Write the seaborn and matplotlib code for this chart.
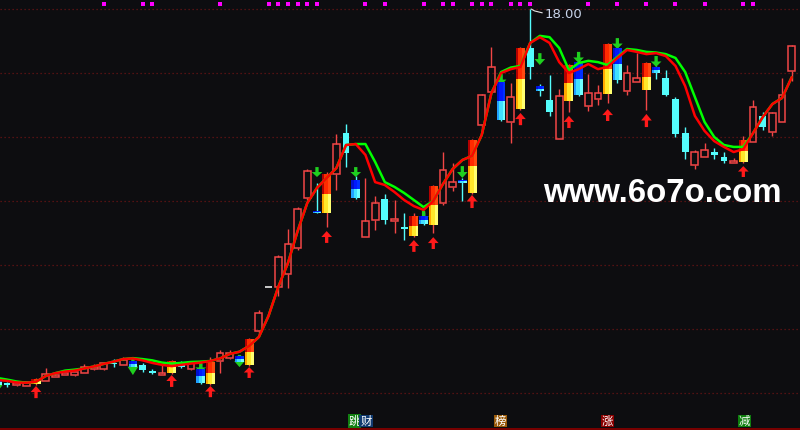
import numpy as np
import pandas as pd
import matplotlib.pyplot as plt
import seaborn as sns
from matplotlib.patches import Rectangle, Polygon

sns.set_theme(style="dark")
plt.rcParams['font.family'] = ['Noto Sans CJK SC', 'DejaVu Sans']

BG = '#0d0d10'
UP_C = '#f24646'
DN_C = '#54fcfc'

# ==========================================
# 1. DANE
# ==========================================
opens = [6.44, 6.30, 6.25, 6.23, 6.28, 6.38, 6.51, 6.56, 6.56, 6.62,
         6.75, 6.75, 6.95, 6.88, 7.00, 6.88, 6.69, 6.56, 6.62, 6.94,
         6.75, 6.75, 6.28, 7.00, 7.09, 7.16, 6.88, 7.94, 9.31, 9.31,
         9.72, 10.53, 12.09, 11.69, 11.62, 12.84, 14.12, 12.66, 10.87, 11.41,
         12.06, 11.37, 11.19, 10.91, 11.53, 11.25, 11.94, 12.44, 12.66, 12.25,
         14.38, 15.41, 15.72, 14.47, 14.87, 16.78, 15.59, 15.16, 13.94, 15.12,
         16.34, 14.97, 15.19, 15.34, 16.78, 15.44, 15.72, 15.47, 16.19, 15.84,
         15.19, 14.12, 13.12, 13.37, 13.53, 13.37, 13.19, 13.22, 13.84, 14.66,
         14.16, 14.47, 16.06]
closes = [6.25, 6.25, 6.31, 6.33, 6.44, 6.59, 6.57, 6.62, 6.66, 6.81,
          6.81, 6.94, 6.90, 7.03, 6.81, 6.72, 6.62, 6.62, 7.00, 6.81,
          6.97, 6.31, 6.97, 7.25, 7.25, 6.97, 7.69, 8.50, 9.31, 10.25,
          10.66, 11.75, 12.94, 11.62, 12.84, 13.78, 13.50, 12.09, 11.37, 11.94,
          11.41, 11.44, 11.12, 11.53, 11.28, 12.47, 12.97, 12.59, 12.56, 13.91,
          15.31, 16.19, 14.53, 15.25, 16.78, 16.19, 15.44, 14.78, 15.28, 16.25,
          15.31, 15.37, 15.37, 16.91, 15.78, 16.00, 15.84, 16.31, 16.00, 15.31,
          14.09, 13.53, 13.53, 13.59, 13.44, 13.25, 13.25, 13.91, 14.94, 14.31,
          14.75, 15.31, 16.84]
highs = [6.47, 6.34, 6.33, 6.34, 6.47, 6.78, 6.59, 6.64, 6.67, 6.91,
         6.91, 6.97, 7.06, 7.12, 7.03, 6.94, 6.75, 6.88, 7.03, 7.00,
         7.00, 6.94, 7.12, 7.34, 7.34, 7.19, 7.72, 8.59, 9.33, 10.31,
         11.12, 11.81, 13.00, 12.56, 12.91, 14.09, 14.41, 12.78, 12.72, 12.16,
         12.22, 12.03, 11.62, 11.62, 11.66, 12.50, 13.53, 13.19, 12.72, 13.94,
         15.34, 16.81, 15.94, 15.69, 16.81, 18.00, 15.66, 15.94, 15.50, 16.28,
         16.41, 15.97, 15.62, 16.94, 16.84, 16.25, 16.62, 16.34, 16.22, 16.09,
         15.25, 14.31, 13.59, 13.81, 13.66, 13.53, 13.34, 14.03, 15.16, 14.78,
         14.78, 15.84, 16.87]
lows = [6.22, 6.19, 6.23, 6.22, 6.25, 6.37, 6.50, 6.55, 6.53, 6.61,
        6.73, 6.73, 6.81, 6.87, 6.80, 6.66, 6.59, 6.55, 6.59, 6.78,
        6.72, 6.28, 6.25, 6.62, 7.06, 6.94, 6.84, 7.84, 9.29, 9.03,
        9.28, 10.47, 12.03, 11.61, 11.19, 12.34, 13.06, 12.06, 10.86, 11.09,
        11.28, 11.00, 10.78, 10.87, 11.25, 11.00, 11.87, 12.31, 12.00, 12.22,
        14.12, 15.37, 14.50, 13.81, 14.84, 15.81, 15.28, 14.66, 13.93, 14.78,
        15.28, 14.81, 15.00, 15.06, 15.69, 15.31, 15.71, 14.84, 15.81, 15.28,
        14.00, 13.31, 13.00, 13.36, 13.31, 13.19, 13.18, 13.19, 13.83, 14.22,
        14.03, 14.46, 15.75]

ma_fast = [6.41, 6.38, 6.33, 6.32, 6.35, 6.53, 6.62, 6.67, 6.70, 6.77,
           6.83, 6.91, 6.98, 7.06, 7.08, 7.02, 6.94, 6.88, 6.84, 6.88,
           6.92, 6.95, 7.00, 7.08, 7.22, 7.29, 7.47, 7.75, 8.41, 9.31,
           10.06, 11.06, 11.94, 12.41, 12.72, 13.03, 13.75, 13.78, 13.44, 12.59,
           12.50, 12.28, 12.03, 11.84, 11.72, 12.00, 12.53, 13.00, 13.28, 13.41,
           14.06, 15.37, 16.00, 16.12, 16.19, 16.94, 17.12, 16.94, 16.34, 16.00,
           16.12, 16.28, 16.12, 16.19, 16.47, 16.72, 16.66, 16.59, 16.62, 16.53,
           16.22, 15.59, 14.66, 14.19, 13.87, 13.69, 13.53, 13.62, 14.12, 14.62,
           15.03, 15.22, 15.87]
ma_slow = [6.47, 6.42, 6.36, 6.32, 6.35, 6.53, 6.62, 6.70, 6.73, 6.77,
           6.83, 6.91, 6.98, 7.06, 7.09, 7.06, 7.02, 6.95, 6.92, 6.94,
           6.97, 6.98, 7.00, 7.08, 7.22, 7.29, 7.47, 7.75, 8.41, 9.31,
           10.06, 11.06, 11.94, 12.41, 12.72, 13.03, 13.75, 13.78, 13.78, 13.22,
           12.59, 12.44, 12.25, 12.03, 11.81, 12.00, 12.53, 13.00, 13.28, 13.41,
           14.06, 15.37, 16.03, 16.17, 16.22, 16.94, 17.16, 17.12, 16.78, 16.09,
           16.31, 16.38, 16.34, 16.25, 16.50, 16.75, 16.72, 16.66, 16.64, 16.59,
           16.47, 16.03, 15.25, 14.47, 14.00, 13.75, 13.69, 13.69, 14.12, 14.62,
           15.03, 15.22, 15.87]

# sygnaly kupna (czerwono-zolte swiece + czerwone strzalki)
buy_idx = [4, 18, 22, 26, 34, 43, 45, 49, 54, 59, 63, 67, 77]
buy_tip = [6.22, 6.56, 6.22, 6.81, 11.06, 10.78, 10.87, 12.19, 14.75, 14.66, 14.87, 14.72, 13.09]
buy_tail = [5.84, 6.19, 5.87, 6.47, 10.69, 10.41, 10.50, 11.78, 14.37, 14.28, 14.50, 14.31, 12.75]

# sygnaly sprzedazy (niebiesko-cyjanowe swiece + zielone strzalki)
sell_idx = [0, 14, 21, 25, 33, 37, 44, 48, 52, 56, 60, 64, 68]
sell_top = [6.47, 7.09, 6.94, 7.19, 13.06, 13.06, 11.69, 13.09, 15.97, 16.62, 16.66, 17.09, 16.53]
sell_tip = [6.03, 6.56, 6.66, 6.81, 12.75, 12.75, 11.37, 12.72, 15.62, 16.25, 16.31, 16.75, 16.19]

mark_idx = [11, 15, 16, 23, 28, 29, 30, 31, 32, 33, 38, 40, 44, 46, 47, 49,
            50, 51, 53, 54, 55, 61, 64, 67, 70, 73, 77, 78]

grid_levels = [6, 8, 10, 12, 14, 16, 18]

bottom_labels = [('跳', '#128012'), ('财', '#103a70'), ('榜', '#9a5a0a'),
                 ('涨', '#8a0000'), ('减', '#0e7e0e')]
label_px = [354.5, 366, 500.5, 607.5, 744.5]

df = pd.DataFrame({'open': opens, 'close': closes, 'high': highs, 'low': lows,
                   'ma_fast': ma_fast, 'ma_slow': ma_slow})
df['i'] = np.arange(len(df))

# ==========================================
# 2. WYKRES
# ==========================================
fig = plt.figure(figsize=(8, 4.3), dpi=100, facecolor=BG)
ax = fig.add_axes([0, 0, 1, 1])
ax.set_facecolor(BG)
ax.set_xlim(0.285, 82.85)
ax.set_ylim(4.844, 18.281)
ax.set_axis_off()

for g in grid_levels:
    ax.axhline(g, color='#6a1414', lw=0.9, ls=(0, (1, 2.2)), zorder=1)
ax.axhline(4.875, color='#7a0000', lw=1.4, zorder=1)

W = 0.70
buy_set = set(buy_idx)
sell_set = set(sell_idx)


def arrow(x, y_from, y_to, color, z):
    # y_from = koniec trzonka, y_to = grot
    hw, sw = 0.55, 0.17
    h = (y_to - y_from) * 0.5
    yb = y_to - h
    pts = [(x, y_to), (x + hw, yb), (x + sw, yb), (x + sw, y_from),
           (x - sw, y_from), (x - sw, yb), (x - hw, yb)]
    ax.add_patch(Polygon(pts, closed=True, color=color, lw=0, zorder=z))


def strips(x, lo, hi, width, top_cols, bot_cols):
    mid = (lo + hi) / 2
    left = x - width / 2
    for ct, cb, f in zip(top_cols, bot_cols, (0.25, 0.45, 0.30)):
        ax.add_patch(Rectangle((left, mid), width * f, hi - mid, color=ct, lw=0, zorder=4))
        ax.add_patch(Rectangle((left, lo), width * f, mid - lo, color=cb, lw=0, zorder=4))
        left += width * f


# --- swiece ---
for r in df.itertuples():
    lo_b, hi_b = min(r.open, r.close), max(r.open, r.close)
    if r.i in buy_set:
        ax.vlines(r.i, r.low, r.high, color=UP_C, lw=1.0, zorder=2)
        strips(r.i, lo_b, hi_b, 0.93, ['#b40000', '#ff2a00', '#ff4a10'],
               ['#ffa800', '#ffe82a', '#ffff70'])
    elif r.i in sell_set:
        ax.vlines(r.i, r.low, r.high, color=DN_C, lw=1.0, zorder=2)
        hi_b = max(hi_b, lo_b + 0.05)
        strips(r.i, lo_b, hi_b, 0.88, ['#0010d0', '#0018ff', '#0030ff'],
               ['#20a0ff', '#40e0ff', '#70ffff'])
    elif r.open == r.close:
        ax.hlines(r.open, r.i - W / 2, r.i + W / 2, color='#d8d8d8', lw=1.3, zorder=2)
    elif r.close > r.open:
        ax.vlines(r.i, hi_b, r.high, color=UP_C, lw=1.0, zorder=2)
        ax.vlines(r.i, r.low, lo_b, color=UP_C, lw=1.0, zorder=2)
        ax.add_patch(Rectangle((r.i - W / 2, lo_b), W, hi_b - lo_b, fill=False,
                               edgecolor=UP_C, lw=1.1, zorder=2))
    else:
        ax.vlines(r.i, r.low, r.high, color=DN_C, lw=1.0, zorder=2)
        ax.add_patch(Rectangle((r.i - W / 2, lo_b), W, max(hi_b - lo_b, 0.04),
                               color=DN_C, lw=0, zorder=2))

# --- zielone strzalki ---
for i, t, b in zip(sell_idx, sell_top, sell_tip):
    arrow(i, t, b, '#1fd01f', 3)

# --- srednie ---
sns.lineplot(data=df, x='i', y='ma_slow', color='#00ff00', lw=1.8, ax=ax, zorder=5)
sns.lineplot(data=df, x='i', y='ma_fast', color='#ff0000', lw=1.8, ax=ax, zorder=6)
ax.set_axis_off()

# --- czerwone strzalki ---
for i, t, b in zip(buy_idx, buy_tip, buy_tail):
    arrow(i, b, t, '#ff1a1a', 7)

# --- znaczniki u gory ---
ax.scatter(mark_idx, [18.16] * len(mark_idx), marker='s', s=9, color='#ff00ff',
           lw=0, zorder=7)

# --- maksimum ---
imax = int(np.argmax(highs))
ax.plot([imax + 0.1, imax + 0.45, imax + 1.25], [highs[imax], highs[imax] - 0.06, highs[imax] - 0.12],
        color='#e6e6e6', lw=0.8, zorder=8)
fig.text(545 / 800, 1 - 15 / 430, f'{highs[imax]:.2f}', color='#c8d4ea', fontsize=9.5,
         ha='left', va='center', family=['DejaVu Sans'])

# --- podpisy na dole ---
for (txt, bg), px in zip(bottom_labels, label_px):
    fig.text(px / 800, 1 - 421 / 430, txt, color='white', fontsize=8.2, ha='center',
             va='center', bbox=dict(boxstyle='square,pad=0.08', fc=bg, ec='none'))

# --- znak wodny ---
wm = fig.text(543 / 800, 1 - 194 / 430, 'www.6o7o.com', color='white', fontsize=30,
              fontweight='bold', ha='left', va='center',
              family=['Liberation Sans Narrow', 'Liberation Sans', 'DejaVu Sans'])
fig.canvas.draw()
bb = wm.get_window_extent()
wm.set_fontsize(30 * 239 / bb.width)

fig.savefig('out.png', dpi=100, facecolor=BG)
